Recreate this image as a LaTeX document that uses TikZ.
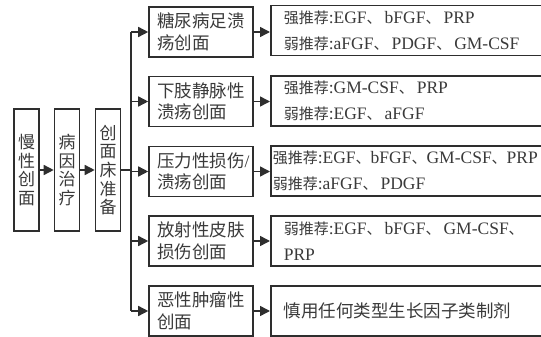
\documentclass[tikz,border=0pt]{standalone}
\usepackage{fontspec}
\setmainfont{Noto Sans CJK SC}
\newfontfamily\latf{Liberation Serif}
\usetikzlibrary{arrows.meta}
\definecolor{ink}{HTML}{2e2e2e}
\definecolor{txt}{HTML}{3a3a3a}
\newcommand\lt[1]{{\latf\fontsize{17.5}{26}\selectfont #1}}
\newcommand\lm[1]{{\latf #1}}
\newcommand\dn{、\hspace{3pt}}
\begin{document}
\begin{tikzpicture}[x=1pt,y=-1pt,
  box/.style={draw=ink, line width=1.6pt, inner sep=0pt, text=txt},
  vbox/.style={box, minimum width=25pt, minimum height=122pt, align=center,
    font=\fontsize{17}{18.7}\selectfont},
  mbox/.style={box, minimum width=104pt, minimum height=50pt, text width=88pt, align=left,
    font=\fontsize{17.5}{21.5}\selectfont},
  rbox/.style={box, anchor=west, minimum height=50pt, text width=274pt, inner xsep=13pt, align=left,
    font=\fontsize{15}{26}\selectfont},
  conn/.style={draw=ink, line width=1.5pt, -{Triangle[length=10pt,width=10pt]}},
  line/.style={draw=ink, line width=1.5pt}]
\useasboundingbox (0,0) rectangle (541,337);
\clip (0,0) rectangle (541,337);
% left column
\node[vbox] (l1) at (26.5,170) {慢\\性\\创\\面};
\node[vbox] (l2) at (67,170) {病\\因\\治\\疗};
\node[vbox] (l3) at (108,170) {创\\面\\床\\准\\备};
\coordinate (t0) at (131,170);
\coordinate (ttop) at (131,32);
\coordinate (tbot) at (131,311);
% middle column
\node[mbox] (m1) at (201,32) {糖尿病足溃\\疡创面};
\node[mbox] (m2) at (201,101.5) {下肢静脉性\\溃疡创面};
\node[mbox] (m3) at (201,171.5) {压力性损伤\lm{/}\\溃疡创面};
\node[mbox] (m4) at (201,241) {放射性皮肤\\损伤创面};
\node[mbox] (m5) at (201,311) {恶性肿瘤性\\创面};
% right column
\node[rbox] (r1) at (270,30.5) {强推荐\lt{:EGF}\dn\lt{bFGF}\dn\lt{PRP}\\弱推荐\lt{:aFGF}\dn\lt{PDGF}\dn\lt{GM-CSF}};
\node[rbox] (r2) at (270,101) {强推荐\lt{:GM-CSF}\dn\lt{PRP}\\弱推荐\lt{:EGF}\dn\lt{aFGF}};
\node[rbox, inner xsep=2pt, text width=296pt] (r3) at (270,171) {强推荐\lt{:EGF}、\lt{bFGF}、\lt{GM-CSF}、\lt{PRP}\\弱推荐\lt{:aFGF}\dn\lt{PDGF}};
\node[rbox] (r4) at (270,241) {弱推荐\lt{:EGF}\dn\lt{bFGF}\dn\lt{GM-CSF}、\\\lt{PRP}};
\node[rbox, font=\fontsize{17.5}{21}\selectfont] (r5) at (270,311) {慎用任何类型生长因子类制剂};
% connectors
\draw[conn] (l1) -- (l2);
\draw[conn] (l2) -- (l3);
\draw[line] (l3.east) -- (t0);
\draw[line] (ttop) -- (tbot);
\foreach \m in {m1,m2,m3,m4,m5}{
  \draw[conn] (\m.west -| t0) -- (\m.west);
}
\foreach \m/\r in {m1/r1,m2/r2,m3/r3,m4/r4,m5/r5}{
  \draw[conn] (\m.east) -- (\m.east -| \r.west);
}
\end{tikzpicture}
\end{document}
